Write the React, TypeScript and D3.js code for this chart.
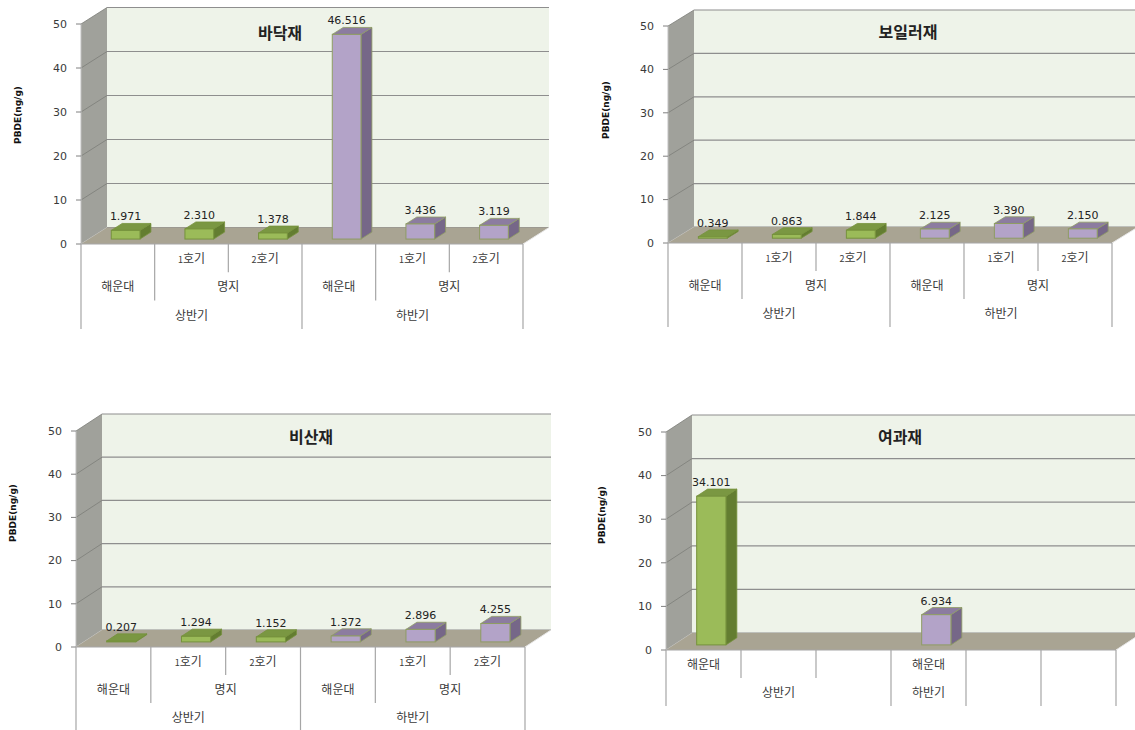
import React from "react";
import * as d3 from "d3";

// ---------- data ----------
const yTicks = [0, 10, 20, 30, 40, 50];
const halfNames = ["상반기", "하반기"];
const seriesOfCategory = [0, 0, 0, 1, 1, 1];

const floorValues: (number | null)[] = [1.971, 2.31, 1.378, 46.516, 3.436, 3.119];
const boilerValues: (number | null)[] = [0.349, 0.863, 1.844, 2.125, 3.39, 2.15];
const flyAshValues: (number | null)[] = [0.207, 1.294, 1.152, 1.372, 2.896, 4.255];
const filterValues: (number | null)[] = [34.101, null, null, 6.934, null, null];

const unitLabels = ["", "1호기", "2호기", "", "1호기", "2호기"];
const siteGroups: [string, number][] = [["해운대", 1], ["명지", 2], ["해운대", 1], ["명지", 2]];
const halfGroups: [string, number][] = [[halfNames[0], 3], [halfNames[1], 3]];

const filterSiteGroups: [string, number][] = [["해운대", 1], ["", 1], ["", 1], ["해운대", 1], ["", 1], ["", 1]];
const filterHalfGroups: [string, number][] = [[halfNames[0], 3], [halfNames[1], 1], ["", 1], ["", 1]];

const unitGroups: [string, number][] = unitLabels.map((u) => [u, 1] as [string, number]);

const yLabel = "PBDE(ng/g)";

// ---------- layout / style ----------
const W = 1135;
const H = 730;

type ChartCfg = {
  title: string;
  values: (number | null)[];
  levels: [string, number][][];
  ox: number; oy0: number; y50: number; xr: number;
  dx: number; dy: number;
  titleX: number; titleY: number;
  ylabX: number; ylabY: number;
  rowH: number;
};

const charts: ChartCfg[] = [
  { title: "바닥재", values: floorValues, levels: [unitGroups, siteGroups, halfGroups],
    ox: 81, oy0: 244, y50: 24, xr: 523, dx: 26, dy: -16.5,
    titleX: 280, titleY: 33, ylabX: 18, ylabY: 115, rowH: 28.3 },
  { title: "보일러재", values: boilerValues, levels: [unitGroups, siteGroups, halfGroups],
    ox: 668, oy0: 243, y50: 26, xr: 1112, dx: 26, dy: -16,
    titleX: 908, titleY: 32, ylabX: 606, ylabY: 110, rowH: 28 },
  { title: "비산재", values: flyAshValues, levels: [unitGroups, siteGroups, halfGroups],
    ox: 76, oy0: 647, y50: 431, xr: 525, dx: 26, dy: -17,
    titleX: 311, titleY: 437, ylabX: 13, ylabY: 513, rowH: 28 },
  { title: "여과재", values: filterValues, levels: [filterSiteGroups, filterHalfGroups],
    ox: 666, oy0: 650, y50: 432, xr: 1116, dx: 26, dy: -17,
    titleX: 900, titleY: 437, ylabX: 602, ylabY: 515, rowH: 28 },
];

const COLORS = {
  backWall: "#eef3e9",
  sideWall: "#a0a19b",
  floor: "#a9a493",
  grid: "#8e8e8e",
  axis: "#a6a6a6",
  text: "#3a3a3a",
};
const barColors = [
  { front: "#9bbb59", top: "#7a9742", side: "#637d31", stroke: "#76923c" },
  { front: "#b3a3c8", top: "#8c7ca0", side: "#766788", stroke: "#8e9c63" },
];

const KFONT = "'Noto Sans CJK KR', 'Noto Sans', sans-serif";
const NFONT = "'DejaVu Sans', Verdana, sans-serif";

function CatLabel({ x, y, label }: { x: number; y: number; label: string }) {
  const m = label.match(/^(\d)(.*)$/);
  if (m) {
    return (
      <text x={x} y={y} textAnchor="middle" fontFamily={KFONT} fontSize={12} fill={COLORS.text}>
        <tspan fontSize={9}>{m[1]}</tspan>
        <tspan>{m[2]}</tspan>
      </text>
    );
  }
  return (
    <text x={x} y={y} textAnchor="middle" fontFamily={KFONT} fontSize={12} fill={COLORS.text}>
      {label}
    </text>
  );
}

function Chart3D({ c }: { c: ChartCfg }) {
  const n = c.values.length;
  const y = d3.scaleLinear().domain([0, 50]).range([c.oy0, c.y50]);
  const x = d3.scaleBand<number>().domain(d3.range(n)).range([c.ox, c.xr]).paddingInner(0).paddingOuter(0);
  const bw = x.bandwidth();
  const backRight = c.xr + c.dx;
  const bx0 = c.ox + c.dx;
  const f0 = 0.3;
  const f1 = 0.72;
  const barW = bw * 0.39;

  // category axis dividers
  const nLevels = c.levels.length;
  const boundaryDepth: number[] = new Array(n + 1).fill(0);
  c.levels.forEach((groups, L) => {
    let k = 0;
    groups.forEach(([, span]) => {
      boundaryDepth[k] = Math.max(boundaryDepth[k], L);
      k += span;
      boundaryDepth[k] = Math.max(boundaryDepth[k], L);
    });
  });
  boundaryDepth[0] = nLevels - 1;
  boundaryDepth[n] = nLevels - 1;

  const xAt = (k: number) => (k >= n ? c.xr : (x(k) as number));

  return (
    <g>
      {/* back wall */}
      <rect x={bx0} y={c.y50 + c.dy} width={backRight - bx0} height={c.oy0 - c.y50} fill={COLORS.backWall} />
      {/* side wall */}
      <polygon
        points={`${c.ox},${c.oy0} ${c.ox},${c.y50} ${bx0},${c.y50 + c.dy} ${bx0},${c.oy0 + c.dy}`}
        fill={COLORS.sideWall}
      />
      {/* grid lines */}
      {yTicks.map((t) => (
        <g key={t}>
          <line x1={bx0} x2={backRight} y1={y(t) + c.dy} y2={y(t) + c.dy} stroke={COLORS.grid} strokeWidth={1.2} />
          <line x1={c.ox} x2={bx0} y1={y(t)} y2={y(t) + c.dy} stroke={t === 0 ? "#c8c8c8" : "#7c7d78"} strokeWidth={0.8} />
        </g>
      ))}
      {/* floor */}
      <polygon
        points={`${c.ox},${c.oy0} ${c.xr},${c.oy0} ${backRight},${c.oy0 + c.dy} ${bx0},${c.oy0 + c.dy}`}
        fill={COLORS.floor}
      />
      <line x1={c.xr} y1={c.oy0} x2={backRight} y2={c.oy0 + c.dy} stroke="#e6e6e6" strokeWidth={1} />
      {/* bars */}
      {c.values.map((v, i) => {
        if (v === null) return null;
        const col = barColors[seriesOfCategory[i]];
        const cx = (x(i) as number) + bw / 2 + f0 * c.dx;
        const yb = c.oy0 + f0 * c.dy;
        const hgt = c.oy0 - y(v);
        const xl = cx - barW / 2;
        const xrr = cx + barW / 2;
        const yt = yb - hgt;
        const ddx = (f1 - f0) * c.dx;
        const ddy = (f1 - f0) * c.dy;
        return (
          <g key={i}>
            <polygon
              points={`${xrr},${yb} ${xrr},${yt} ${xrr + ddx},${yt + ddy} ${xrr + ddx},${yb + ddy}`}
              fill={col.side} stroke={col.stroke} strokeWidth={0.8}
            />
            <polygon
              points={`${xl},${yt} ${xrr},${yt} ${xrr + ddx},${yt + ddy} ${xl + ddx},${yt + ddy}`}
              fill={col.top} stroke={col.stroke} strokeWidth={0.8}
            />
            <rect x={xl} y={yt} width={barW} height={hgt} fill={col.front} stroke={col.stroke} strokeWidth={1} />
            <text x={cx} y={yt + ddy - 3} textAnchor="middle" fontFamily={NFONT} fontSize={11} fill="#222">
              {v.toFixed(3)}
            </text>
          </g>
        );
      })}
      {/* value axis */}
      <line x1={c.ox} x2={c.ox} y1={c.y50} y2={c.oy0} stroke="#c0c0c0" strokeWidth={1} />
      {yTicks.map((t) => (
        <g key={"t" + t}>
          <line x1={c.ox - 5} x2={c.ox} y1={y(t)} y2={y(t)} stroke="#808080" strokeWidth={1} />
          <text x={c.ox - 14} y={y(t)} dy="0.35em" textAnchor="end" fontFamily={NFONT} fontSize={11} fill={COLORS.text}>
            {t}
          </text>
        </g>
      ))}
      {/* category axis */}
      <line x1={c.ox} x2={c.xr} y1={c.oy0} y2={c.oy0} stroke={COLORS.axis} strokeWidth={1} />
      {boundaryDepth.map((L, k) => (
        <line key={"b" + k} x1={xAt(k)} x2={xAt(k)} y1={c.oy0} y2={c.oy0 + (L + 1) * c.rowH}
          stroke={COLORS.axis} strokeWidth={1.2} />
      ))}
      {c.levels.map((groups, L) => {
        let k = 0;
        return groups.map(([label, span], gi) => {
          const start = k;
          k += span;
          if (!label) return null;
          const mx = (xAt(start) + xAt(start + span)) / 2;
          const ty = c.oy0 + L * c.rowH + 19;
          return <CatLabel key={L + "-" + gi} x={mx} y={ty} label={label} />;
        });
      })}
      {/* title */}
      <text x={c.titleX} y={c.titleY} dy="0.35em" textAnchor="middle" fontFamily={KFONT} fontSize={16} fontWeight="bold" fill="#222">
        {c.title}
      </text>
      {/* y label */}
      <text transform={`translate(${c.ylabX},${c.ylabY}) rotate(-90)`} textAnchor="middle" dy="0.35em"
        fontFamily={NFONT} fontSize={9} fontWeight="bold" fill="#111">
        {yLabel}
      </text>
    </g>
  );
}

export default function App() {
  return (
    <svg width={W} height={H} viewBox={`0 0 ${W} ${H}`}
      style={{ position: "absolute", left: 0, top: 0, background: "#ffffff" }}>
      <rect width={W} height={H} fill="#ffffff" />
      {charts.map((c, i) => (
        <Chart3D key={i} c={c} />
      ))}
    </svg>
  );
}
